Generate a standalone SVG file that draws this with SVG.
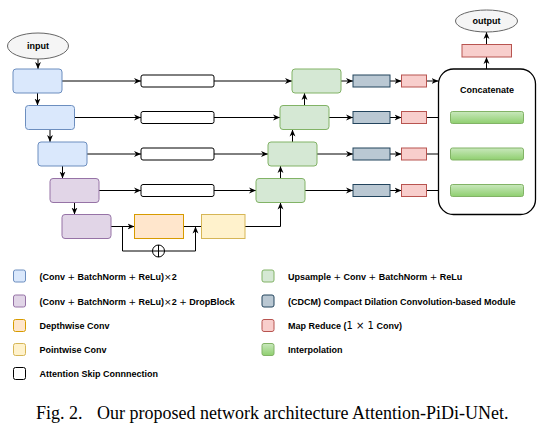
<svg xmlns="http://www.w3.org/2000/svg" width="546" height="429" viewBox="0 0 546 429">
<defs>
<marker id="arr" viewBox="0 0 10 10" refX="10" refY="5" markerWidth="7" markerHeight="7" orient="auto" markerUnits="userSpaceOnUse">
<path d="M0,0.8 L10,5 L0,9.2 L3,5 z" fill="#000"/>
</marker>
<linearGradient id="ig" x1="0" y1="0" x2="0" y2="1">
<stop offset="0" stop-color="#c9e8bd"/>
<stop offset="1" stop-color="#8fcf6f"/>
</linearGradient>
<style>
.blue{fill:#dae8fc;stroke:#6c8ebf;stroke-width:1}
.purple{fill:#e1d5e7;stroke:#9673a6;stroke-width:1}
.orange{fill:#ffe6cc;stroke:#d79b00;stroke-width:1}
.yellow{fill:#fff2cc;stroke:#d6b656;stroke-width:1}
.green{fill:#d5e8d4;stroke:#82b366;stroke-width:1}
.cdcm{fill:#bac8d3;stroke:#23445d;stroke-width:1}
.red{fill:#f8cecc;stroke:#b85450;stroke-width:1}
.interp{fill:url(#ig);stroke:#82b366;stroke-width:1}
.skip{fill:#fff;stroke:#000;stroke-width:1}
.ell{fill:#f5f5f5;stroke:#666;stroke-width:1}
.c{fill:none;stroke:#000;stroke-width:1}
.a{fill:none;stroke:#000;stroke-width:1;marker-end:url(#arr)}
.t{font-family:"Liberation Sans",Arial,sans-serif;font-weight:bold;font-size:9px;fill:#000}
.m{font-family:"DejaVu Sans",sans-serif;font-weight:normal}
.cap{font-family:"Liberation Serif","Times New Roman",serif;font-size:18px;fill:#000}
</style>
</defs>
<rect width="546" height="429" fill="#fff"/>

<g id="connectors">
<path class="a" d="M38,59 V69"/>
<path class="a" d="M37.5,93 V105.5"/>
<path class="a" d="M50,129.5 V142"/>
<path class="a" d="M62.5,166 V178.5"/>
<path class="a" d="M74.5,202.5 V214.5"/>
<path class="a" d="M62,81 H141"/>
<path class="a" d="M74.5,117.5 H141"/>
<path class="a" d="M87,154 H141"/>
<path class="a" d="M99,190.5 H141"/>
<path class="a" d="M214,81 H292"/>
<path class="a" d="M214,117.5 H280"/>
<path class="a" d="M214,154 H268"/>
<path class="a" d="M214,190.5 H256"/>
<path class="a" d="M111,226.5 H134.5"/>
<path class="c" d="M183.5,226.5 H201.5"/>
<path class="a" d="M122.5,226.5 V251 H195.5 V226.5"/>
<path class="a" d="M245,226.5 H280.5 V202.5"/>
<path class="a" d="M280.5,178.5 V166"/>
<path class="a" d="M292.5,142 V129.5"/>
<path class="a" d="M304.5,105.5 V93"/>
<path class="a" d="M341,81 H353"/>
<path class="a" d="M329,117.5 H353"/>
<path class="a" d="M317,154 H353"/>
<path class="a" d="M305,190.5 H353"/>
<path class="a" d="M390,81 H401.5"/>
<path class="a" d="M390,117.5 H401.5"/>
<path class="a" d="M390,154 H401.5"/>
<path class="a" d="M390,190.5 H401.5"/>
<path class="a" d="M426.5,81 H438.5"/>
<path class="a" d="M426.5,117.5 H450.5"/>
<path class="a" d="M426.5,154 H450.5"/>
<path class="a" d="M426.5,190.5 H450.5"/>
<path class="a" d="M486.5,69 V57"/>
<path class="a" d="M486.5,44.5 V32"/>
</g>

<g id="input"><ellipse class="ell" cx="38" cy="46" rx="30.5" ry="13"/><text class="t" x="38" y="49" text-anchor="middle">input</text></g>
<g id="enc1"><rect class="blue" x="13" y="69" width="49" height="24" rx="3"/></g>
<g id="enc2"><rect class="blue" x="25.5" y="105.5" width="49" height="24" rx="3"/></g>
<g id="enc3"><rect class="blue" x="38" y="142" width="49" height="24" rx="3"/></g>
<g id="enc4"><rect class="purple" x="50" y="178.5" width="49" height="24" rx="3"/></g>
<g id="enc5"><rect class="purple" x="62" y="214.5" width="49" height="24" rx="3"/></g>
<g id="depthwise"><rect class="orange" x="134.5" y="214.5" width="49" height="24"/></g>
<g id="pointwise"><rect class="yellow" x="201.5" y="214.5" width="43.5" height="24"/></g>
<g id="add"><circle cx="158.5" cy="251" r="6" fill="#fff" stroke="#000" stroke-width="1"/><path class="c" d="M152.5,251 H164.5 M158.5,245 V257"/></g>

<g id="skip1"><rect class="skip" x="141" y="75" width="73" height="12" rx="2"/></g>
<g id="skip2"><rect class="skip" x="141" y="111.5" width="73" height="12" rx="2"/></g>
<g id="skip3"><rect class="skip" x="141" y="148" width="73" height="12" rx="2"/></g>
<g id="skip4"><rect class="skip" x="141" y="184.5" width="73" height="12" rx="2"/></g>

<g id="dec1"><rect class="green" x="292" y="69" width="49" height="24" rx="3"/></g>
<g id="dec2"><rect class="green" x="280" y="105.5" width="49" height="24" rx="3"/></g>
<g id="dec3"><rect class="green" x="268" y="142" width="49" height="24" rx="3"/></g>
<g id="dec4"><rect class="green" x="256" y="178.5" width="49" height="24" rx="3"/></g>

<g id="cdcm1"><rect class="cdcm" x="353" y="75" width="37" height="12"/></g>
<g id="cdcm2"><rect class="cdcm" x="353" y="111.5" width="37" height="12"/></g>
<g id="cdcm3"><rect class="cdcm" x="353" y="148" width="37" height="12"/></g>
<g id="cdcm4"><rect class="cdcm" x="353" y="184.5" width="37" height="12"/></g>

<g id="mr1"><rect class="red" x="401.5" y="75" width="25" height="12"/></g>
<g id="mr2"><rect class="red" x="401.5" y="111.5" width="25" height="12"/></g>
<g id="mr3"><rect class="red" x="401.5" y="148" width="25" height="12"/></g>
<g id="mr4"><rect class="red" x="401.5" y="184.5" width="25" height="12"/></g>

<g id="concat"><rect x="438.5" y="69" width="97" height="145.5" rx="15" fill="#fff" stroke="#000" stroke-width="1.3"/><text class="t" x="487" y="93" text-anchor="middle">Concatenate</text></g>
<g id="interp2"><rect class="interp" x="450.5" y="111.5" width="73" height="12" rx="2"/></g>
<g id="interp3"><rect class="interp" x="450.5" y="148" width="73" height="12" rx="2"/></g>
<g id="interp4"><rect class="interp" x="450.5" y="184.5" width="73" height="12" rx="2"/></g>
<g id="mrout"><rect class="red" x="462" y="44.5" width="49.5" height="12.5"/></g>
<g id="output"><ellipse class="ell" cx="486.5" cy="21" rx="31" ry="11"/><text class="t" x="486.5" y="24" text-anchor="middle">output</text></g>

<g id="legend">
<rect class="blue" x="13.5" y="270" width="12" height="12" rx="2"/>
<text class="t" x="39.5" y="279.5">(Conv <tspan class="m">+</tspan> BatchNorm <tspan class="m">+</tspan> ReLu)<tspan class="m">×</tspan>2</text>
<rect class="purple" x="13.5" y="295" width="12" height="12" rx="2"/>
<text class="t" x="39.5" y="304.5">(Conv <tspan class="m">+</tspan> BatchNorm <tspan class="m">+</tspan> ReLu)<tspan class="m">×</tspan>2 <tspan class="m">+</tspan> DropBlock</text>
<rect class="orange" x="13.5" y="319.5" width="12" height="12" rx="2"/>
<text class="t" x="39.5" y="329">Depthwise Conv</text>
<rect class="yellow" x="13.5" y="343.5" width="12" height="12" rx="2"/>
<text class="t" x="39.5" y="353">Pointwise Conv</text>
<rect class="skip" x="13.5" y="367.5" width="12" height="12" rx="2"/>
<text class="t" x="39.5" y="377">Attention Skip Connnection</text>
<rect class="green" x="262" y="270" width="12" height="12" rx="2"/>
<text class="t" x="288" y="279.5">Upsample <tspan class="m">+</tspan> Conv <tspan class="m">+</tspan> BatchNorm <tspan class="m">+</tspan> ReLu</text>
<rect class="cdcm" x="262" y="295" width="12" height="12" rx="2"/>
<text class="t" x="288" y="304.5">(CDCM) Compact Dilation Convolution-based Module</text>
<rect class="red" x="262" y="319.5" width="12" height="12" rx="2"/>
<text class="t" x="288" y="329">Map Reduce (<tspan class="m" font-size="10">1 × 1</tspan> Conv)</text>
<rect class="interp" x="262" y="343.5" width="12" height="12" rx="2"/>
<text class="t" x="288" y="353">Interpolation</text>
</g>

<text class="cap" x="36" y="419">Fig. 2.<tspan x="97">Our proposed network architecture Attention-PiDi-UNet.</tspan></text>
</svg>
